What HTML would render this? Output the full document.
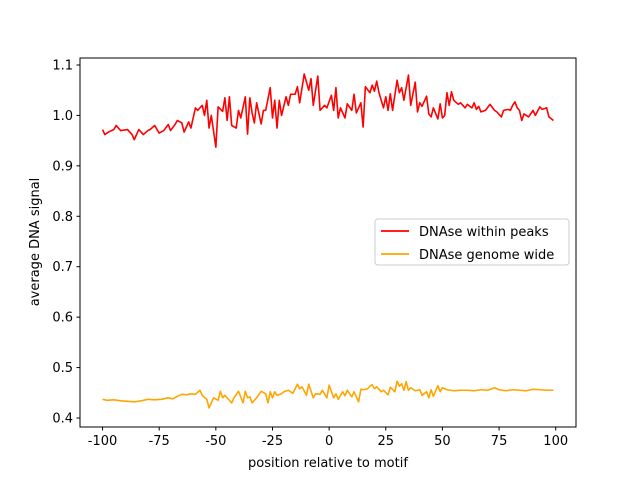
<!DOCTYPE html>
<html><head><meta charset="utf-8"><style>
body{margin:0;background:#fff;}
svg{font-family:"DejaVu Sans","Liberation Sans",sans-serif;}
</style></head><body>
<svg id="chart" width="640" height="480" xmlns="http://www.w3.org/2000/svg">
<rect width="640" height="480" fill="#fff"/>
<g id="plot"></g>
<rect x="80" y="58" width="496" height="369" fill="none" stroke="#000" stroke-width="1"/>
<g id="axes"></g>
<text x="328" y="467" font-size="13" text-anchor="middle">position relative to motif</text>
<text transform="translate(39,242) rotate(-90)" font-size="13" text-anchor="middle">average DNA signal</text>
<g>
<rect x="375" y="219" width="194" height="46" rx="3" fill="#fff" fill-opacity="0.8" stroke="#ccc"/>
<line x1="381" y1="231" x2="409" y2="231" stroke="#ff0000" stroke-width="1.8"/>
<text x="419" y="236" font-size="13">DNAse within peaks</text>
<line x1="381" y1="254" x2="409" y2="254" stroke="#ffa500" stroke-width="1.8"/>
<text x="419" y="259" font-size="13">DNAse genome wide</text>
</g>
</svg>
<script>
const peakPos=[-100,-99,-97,-95,-94,-92,-89,-87,-86,-84,-82,-80,-79,-77,-75,-73,-71,-70,-68,-67,-65,-64,-62,-61,-59,-58,-56,-55,-54,-53,-52,-50,-49,-47,-46,-45,-44,-43,-41,-40,-39,-37,-36,-35,-34,-33,-32,-30,-29,-28,-26,-25,-24,-23,-22,-21,-19,-18,-17,-15,-14,-13,-11,-9,-8,-7,-5,-4,-2,-1,1,2,3,4,5,7,8,10,11,12,14,15,16,18,19,20,21,22,24,25,26,27,28,30,31,32,33,35,36,38,39,40,41,43,44,45,46,48,49,50,51,52,53,54,55,57,58,60,61,63,64,65,66,67,69,71,73,74,76,77,79,80,81,82,83,84,85,86,88,90,91,93,94,96,97,99];
const peakVal=[.972,.962,.968,.972,.98,.97,.972,.962,.952,.972,.962,.97,.972,.98,.965,.97,.982,.97,.982,.99,.985,.967,.987,.975,1.015,1.01,1.02,1.0,1.03,.975,1.0,.937,1.017,1.008,1.035,.99,1.037,.98,.975,1.01,.995,1.037,.963,1.035,1.005,.985,1.025,.983,1.01,1.01,1.055,.995,1.03,.975,1.03,1.0,1.037,1.02,1.042,1.042,1.057,1.025,1.082,1.05,1.073,1.02,1.078,1.01,1.02,1.015,1.04,1.01,1.055,.995,1.015,.995,1.023,1.01,1.042,1.005,1.025,.977,1.057,1.045,1.06,1.048,1.068,1.045,1.015,1.037,1.01,1.043,1.01,1.07,1.045,1.055,1.03,1.08,1.02,1.066,1.007,1.025,1.018,1.038,1.003,.997,1.015,.993,1.023,.995,1.0,1.045,1.02,1.047,1.03,1.022,1.025,1.015,1.022,1.015,1.025,1.012,1.018,1.007,1.01,1.022,1.01,1.007,.997,1.01,1.012,1.01,1.02,1.027,1.015,1.01,.99,1.003,.997,1.01,1.0,1.017,1.012,1.015,.997,.99];
const genomePos=[-100,-98,-95,-92,-89,-86,-83,-80,-77,-74,-71,-69,-67,-65,-63,-61,-59,-57,-56,-54,-53,-52,-51,-49,-48,-47,-46,-44,-43,-42,-40,-38,-37,-36,-35,-34,-32,-30,-28,-27,-26,-25,-24,-23,-21,-20,-18,-16,-14,-13,-12,-10,-9,-7,-6,-4,-3,-1,0,2,3,4,6,7,8,10,11,13,14,15,17,18,19,20,21,23,24,26,27,29,30,31,32,33,34,35,36,38,40,41,43,44,45,46,48,49,50,52,55,58,61,64,67,70,73,75,78,81,84,87,90,93,96,99];
const genomeVal=[.437,.435,.436,.434,.433,.432,.434,.437,.436,.437,.44,.438,.443,.447,.446,.448,.447,.455,.445,.437,.42,.43,.44,.435,.453,.44,.445,.435,.43,.44,.453,.43,.453,.44,.442,.43,.44,.453,.448,.43,.452,.44,.452,.445,.448,.452,.455,.449,.467,.458,.462,.445,.467,.44,.448,.447,.455,.44,.465,.44,.448,.437,.452,.444,.455,.442,.452,.432,.457,.456,.458,.463,.466,.458,.462,.452,.455,.446,.461,.452,.473,.463,.468,.455,.472,.455,.46,.454,.456,.445,.452,.44,.456,.443,.464,.452,.46,.456,.454,.455,.455,.454,.456,.455,.46,.456,.454,.456,.455,.454,.457,.456,.455,.455];
const xTicks=[-100,-75,-50,-25,0,25,50,75,100];
const yTicks=[0.4,0.5,0.6,0.7,0.8,0.9,1.0,1.1];
const yTickLabels=["0.4","0.5","0.6","0.7","0.8","0.9","1.0","1.1"];
const NS="http://www.w3.org/2000/svg";
function X(v){return 80+(v+109.95)*496/218.9;}
function Y(v){return 418-(v-0.4)*504.3;}
const plot=document.getElementById('plot'),axes=document.getElementById('axes');
function line(pos,val,color,name){
  const p=document.createElementNS(NS,'polyline');
  p.setAttribute('points',pos.map((x,i)=>X(x).toFixed(2)+','+Y(val[i]).toFixed(2)).join(' '));
  p.setAttribute('fill','none');p.setAttribute('stroke',color);p.setAttribute('stroke-width','1.6');p.setAttribute('stroke-linejoin','round');
  
  
  plot.appendChild(p);
}
line(peakPos,peakVal,'#ff0000','series-dnase-within-peaks');
line(genomePos,genomeVal,'#ffa500','series-dnase-genome-wide');
xTicks.forEach(t=>{
  const l=document.createElementNS(NS,'line');
  l.setAttribute('x1',X(t));l.setAttribute('x2',X(t));l.setAttribute('y1',427);l.setAttribute('y2',430.5);l.setAttribute('stroke','#000');
  
  
  axes.appendChild(l);
  const tx=document.createElementNS(NS,'text');
  tx.setAttribute('x',X(t));tx.setAttribute('y',445);tx.setAttribute('font-size','13');tx.setAttribute('text-anchor','middle');
  tx.textContent=String(t);
  
  
  axes.appendChild(tx);
});
yTicks.forEach((t,i)=>{
  const l=document.createElementNS(NS,'line');
  l.setAttribute('x1',76.5);l.setAttribute('x2',80);l.setAttribute('y1',Y(t));l.setAttribute('y2',Y(t));l.setAttribute('stroke','#000');
  
  
  axes.appendChild(l);
  const tx=document.createElementNS(NS,'text');
  tx.setAttribute('x',73);tx.setAttribute('y',Y(t)+4.5);tx.setAttribute('font-size','13');tx.setAttribute('text-anchor','end');
  tx.textContent=yTickLabels[i];
  
  
  axes.appendChild(tx);
});
</script>
</body></html>
